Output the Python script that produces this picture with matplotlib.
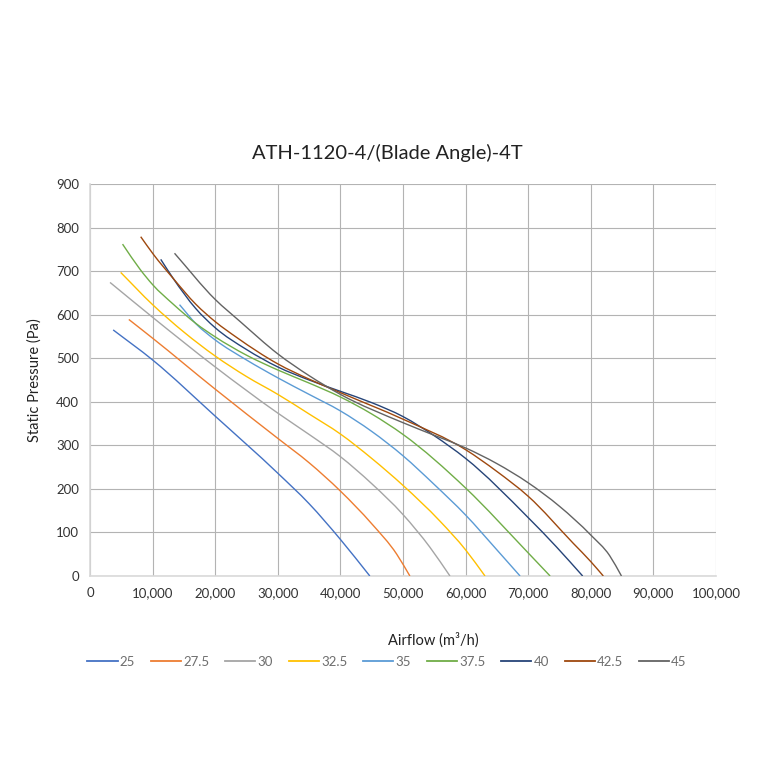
import matplotlib.pyplot as plt
from matplotlib.path import Path
from matplotlib.patches import PathPatch
from matplotlib.lines import Line2D
from matplotlib.ticker import FuncFormatter

# blade angle curves, airflow (m3/h) vs static pressure (Pa)
angles = ["25", "27.5", "30", "32.5", "35", "37.5", "40", "42.5", "45"]
colors = ["#4472C4", "#ED7D31", "#A5A5A5", "#FFC000", "#5B9BD5",
          "#70AD47", "#264478", "#9E480E", "#636363"]

x25 = [3700, 10000, 20000, 30000, 35000, 40000, 44700]
y25 = [565, 496, 367, 236, 166, 84, 0]

x275 = [6200, 10000, 20000, 30000, 35000, 40000, 45000, 49000, 51100]
y275 = [589, 546, 429, 316, 260, 195, 120, 50, 0]

x30 = [3200, 10000, 20000, 30000, 35000, 40000, 45000, 50000, 54300, 57500]
y30 = [674, 594, 480, 374, 325, 274, 212, 141, 66, 0]

x325 = [4900, 10000, 15000, 20000, 25000, 30000, 35000, 40000, 45000, 50000, 55900, 60000, 63100]
y325 = [697, 623, 560, 505, 458, 417, 372, 326, 270, 208, 126, 60, 0]

x35 = [14300, 17000, 20000, 25000, 30000, 35000, 40000, 45000, 50000, 55000, 60000, 65000, 68700]
y35 = [623, 578, 542, 496, 455, 417, 379, 332, 276, 210, 140, 60, 0]

x375 = [5200, 8000, 10000, 13300, 16900, 20000, 25000, 30000, 35000, 40000, 45000, 50000, 60000, 70000, 73500]
y375 = [762, 704, 669, 624, 580, 549, 507, 473, 443, 411, 372, 325, 202, 53, 0]

x40 = [11300, 13300, 16900, 20000, 25000, 30000, 35000, 40000, 45000, 50000, 55000, 60000, 70000, 74500, 78700]
y40 = [727, 683, 614, 570, 520, 480, 450, 424, 398, 366, 322, 270, 134, 67, 0]

x425 = [8100, 10100, 13300, 16900, 20000, 23500, 30000, 35000, 40000, 50000, 60000, 65000, 70000, 77200, 80000, 82000]
y425 = [779, 739, 683, 624, 584, 547, 487, 452, 421, 360, 290, 240, 183, 75, 33, 0]

x45 = [13500, 20000, 24000, 30000, 35000, 40000, 50000, 55000, 60000, 65000, 70000, 75000, 80000, 83000, 84900]
y45 = [741, 635, 584, 510, 460, 417, 352, 323, 294, 258, 214, 160, 94, 47, 0]

xs = [x25, x275, x30, x325, x35, x375, x40, x425, x45]
ys = [y25, y275, y30, y325, y35, y375, y40, y425, y45]


def smooth_path(xv, yv):
    # smoothed line: cubic bezier segments passing through every point
    n = len(xv)
    h = [xv[i + 1] - xv[i] for i in range(n - 1)]
    s = [(yv[i + 1] - yv[i]) / h[i] for i in range(n - 1)]
    m = [s[0]]
    for i in range(1, n - 1):
        m.append((h[i] * s[i - 1] + h[i - 1] * s[i]) / (h[i - 1] + h[i]))
    m.append(s[-1])
    verts = [(xv[0], yv[0])]
    codes = [Path.MOVETO]
    for i in range(n - 1):
        d = h[i] / 3
        verts += [(xv[i] + d, yv[i] + m[i] * d),
                  (xv[i + 1] - d, yv[i + 1] - m[i + 1] * d),
                  (xv[i + 1], yv[i + 1])]
        codes += [Path.CURVE4] * 3
    return Path(verts, codes)


plt.rcParams['font.family'] = ['Lato', 'DejaVu Sans']
fig = plt.figure(figsize=(7.6, 7.6), dpi=100)
ax = fig.add_axes([90/760, 1-576/760, 626/760, 392/760])

handles = []
for xv, yv, c, lab in zip(xs, ys, colors, angles):
    ax.add_patch(PathPatch(smooth_path(xv, yv), fill=False, edgecolor=c, lw=1.0, zorder=3))
    handles.append(Line2D([], [], color=c, lw=1.3, label=lab))

ax.set_xlim(0, 100000)
ax.set_ylim(0, 900)
ax.set_xticks(range(0, 100001, 10000))
ax.set_yticks(range(0, 901, 100))
ax.xaxis.set_major_formatter(FuncFormatter(lambda v, p: f"{int(v):,}"))
ax.grid(True, color="#b3b3b3", lw=0.8)
ax.set_axisbelow(True)
for s in ["top", "right"]:
    ax.spines[s].set_visible(False)
for s in ["left", "bottom"]:
    ax.spines[s].set_color("#d9d9d9")
    ax.spines[s].set_linewidth(1.2)
ax.tick_params(length=0, labelsize=9.5, labelcolor="#333333", pad=8)

ax.set_ylabel("Static Pressure (Pa)", fontsize=10.5, color="#222222", labelpad=10)
fig.text(433/760, 1-640/760, "Airflow (m\u00b3/h)", fontsize=10.5, color="#222222",
         ha="center", va="center")
fig.text(387/760, 1-153/760, "ATH-1120-4/(Blade Angle)-4T", fontsize=14.5,
         color="#222222", ha="center", va="center")

leg = fig.legend(handles=handles, loc="center", bbox_to_anchor=(387/760, 1-662/760), ncol=9,
                 frameon=False, fontsize=9.5, handlelength=2.3, handletextpad=0.15,
                 columnspacing=1.2, labelcolor="#6e6e6e")

fig.savefig("out.png", dpi=100)
